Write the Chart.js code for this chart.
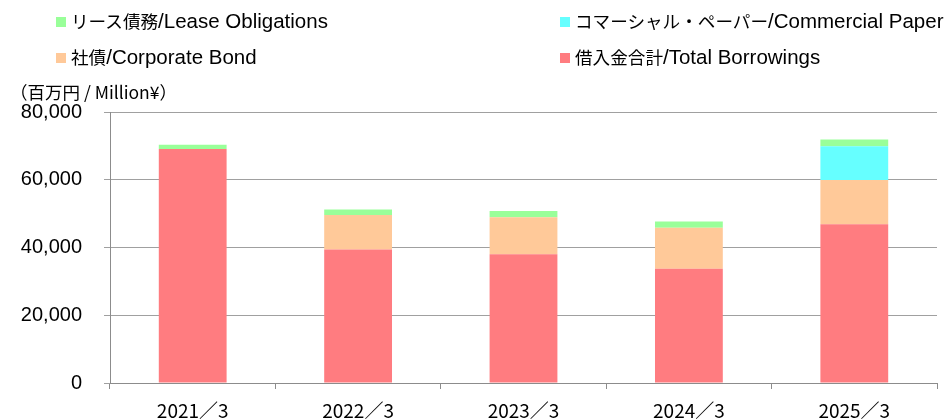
<!DOCTYPE html>
<html lang="ja">
<head>
<meta charset="utf-8">
<script src="https://cdn.jsdelivr.net/npm/chart.js@4.4.1/dist/chart.umd.min.js"></script>
<style>
  html, body { margin: 0; padding: 0; background: #fff; }
  #wrap { position: relative; width: 947px; height: 420px; overflow: hidden; }
  #chart { position: absolute; left: 0; top: 0; }
  .legend-item {
    position: absolute;
    height: 22px;
    line-height: 22px;
    color: #000;
    white-space: nowrap;
  }
  .legend-item .box {
    display: inline-block;
    width: 10px;
    height: 10px;
    margin-right: 5px;
    vertical-align: 1px;
  }
  .legend-item .ja { font-family: 'Noto Sans CJK JP', sans-serif; font-size: 17.6px; }
  .legend-item .en { font-family: 'Liberation Sans', Arial, sans-serif; font-size: 20.5px; }
  #unit {
    position: absolute;
    left: 10px;
    top: 81px;
    font-family: 'Noto Sans CJK JP', sans-serif;
    font-size: 17.5px;
    line-height: 22px;
    color: #000;
    white-space: nowrap;
  }
</style>
</head>
<body>
<div id="wrap">
  <canvas id="chart" width="947" height="420"></canvas>
  <div id="legend"></div>
  <div id="unit">（百万円 / Million¥）</div>
</div>
<script>
const categories = ['2021／3', '2022／3', '2023／3', '2024／3', '2025／3'];
const borrowings = [69100, 39400, 38000, 33700, 46900];
const corporateBonds = [0, 10200, 10900, 12100, 13000];
const commercialPaper = [0, 0, 0, 0, 10000];
const leaseObligations = [1250, 1600, 1900, 1900, 2000];
const yTicks = [0, 20000, 40000, 60000, 80000];

const seriesNames = {
  borrowings: '借入金合計/Total Borrowings',
  bonds: '社債/Corporate Bond',
  paper: 'コマーシャル・ペーパー/Commercial Paper',
  lease: 'リース債務/Lease Obligations',
};

const COLORS = {
  borrowings: '#ff7c80',
  bonds: '#ffc999',
  paper: '#66ffff',
  lease: '#99ff99',
};

// legend slots: [left, top] of each entry, in the order of the reference
const LEGEND_SLOTS = [[56, 10], [560, 10], [56, 46], [560, 46]];

const datasets = [
  { key: 'borrowings', data: borrowings },
  { key: 'bonds', data: corporateBonds },
  { key: 'paper', data: commercialPaper },
  { key: 'lease', data: leaseObligations },
].map((s) => ({
  label: seriesNames[s.key],
  data: s.data,
  backgroundColor: COLORS[s.key],
  borderWidth: 0,
  barPercentage: 1,
  categoryPercentage: 0.41,
}));

function buildLegend() {
  const legend = document.getElementById('legend');
  datasets.slice().reverse().forEach((ds, i) => {
    const item = document.createElement('div');
    item.className = 'legend-item';
    item.style.left = LEGEND_SLOTS[i][0] + 'px';
    item.style.top = LEGEND_SLOTS[i][1] + 'px';

    const box = document.createElement('span');
    box.className = 'box';
    box.style.background = ds.backgroundColor;
    item.appendChild(box);

    // Japanese part and English part use different faces, like the original
    const cut = ds.label.indexOf('/');
    const ja = document.createElement('span');
    ja.className = 'ja';
    ja.textContent = ds.label.slice(0, cut);
    const en = document.createElement('span');
    en.className = 'en';
    en.textContent = ds.label.slice(cut);
    item.appendChild(ja);
    item.appendChild(en);
    legend.appendChild(item);
  });
}

function buildChart() {
  const ctx = document.getElementById('chart').getContext('2d');
  new Chart(ctx, {
    type: 'bar',
    data: { labels: categories, datasets },
    options: {
      responsive: false,
      animation: false,
      layout: { padding: { top: 112, right: 10, bottom: 0, left: 0 } },
      plugins: {
        legend: { display: false },
        tooltip: { enabled: false },
      },
      scales: {
        x: {
          stacked: true,
          grid: {
            offset: true,
            drawOnChartArea: false,
            drawTicks: true,
            tickLength: 6,
            color: '#8c8c8c',
          },
          border: { color: '#8c8c8c', width: 1 },
          ticks: {
            color: '#000',
            padding: 10,
            font: { family: 'Noto Sans CJK JP', size: 19 },
          },
          afterFit(scale) { scale.height = 37; },
        },
        y: {
          stacked: true,
          min: yTicks[0],
          max: yTicks[yTicks.length - 1],
          afterBuildTicks(scale) {
            scale.ticks = yTicks.map((value) => ({ value }));
          },
          grid: { color: '#a0a0a0', tickLength: 6 },
          border: { color: '#8c8c8c', width: 1 },
          ticks: {
            color: '#000',
            padding: 22,
            font: { family: 'Liberation Sans', size: 20 },
            callback(value) { return Number(value).toLocaleString('en-US'); },
          },
          afterFit(scale) { scale.width = 110; },
        },
      },
    },
  });
}

buildLegend();
buildChart();
</script>
</body>
</html>
